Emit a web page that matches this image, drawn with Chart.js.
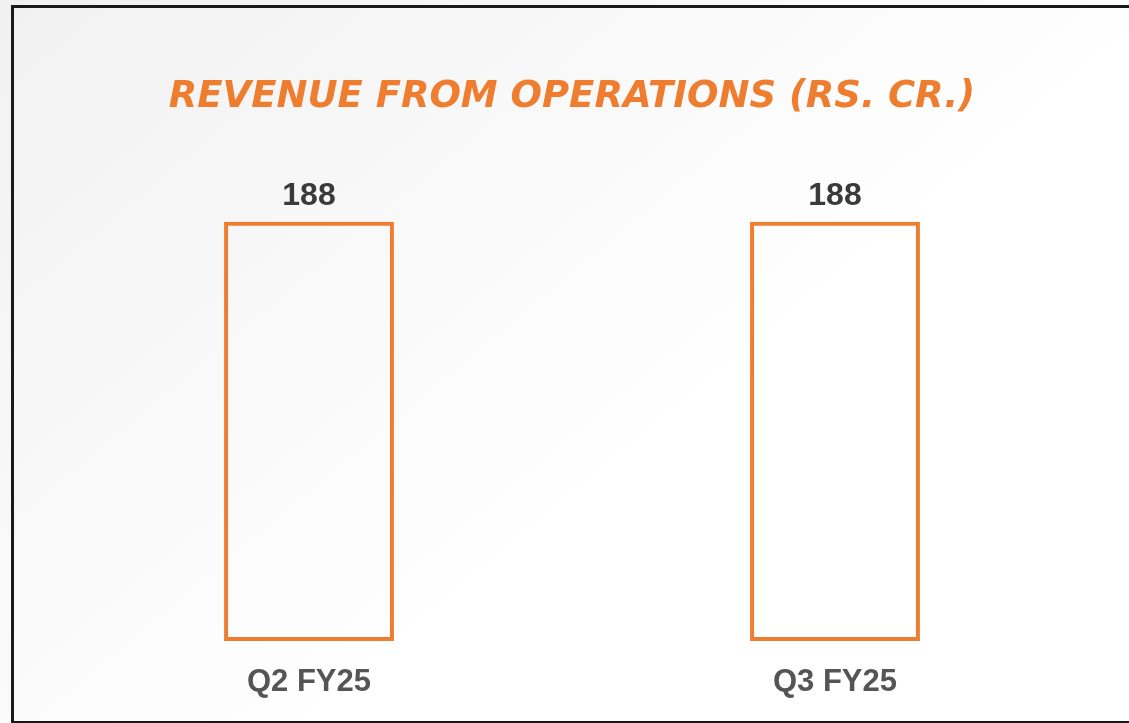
<!DOCTYPE html>
<html>
<head>
<meta charset="utf-8">
<script src="https://cdn.jsdelivr.net/npm/chart.js@4"></script>
<style>
  html, body { margin: 0; padding: 0; width: 1129px; height: 723px; overflow: hidden; background: #f2f2f2; }
  #wrap { position: absolute; left: 0; top: 0; width: 1129px; height: 723px; }
  canvas { position: absolute; left: 0; top: 0; }
  #frame { position: absolute; left: 11px; top: 5px; width: 1130px; height: 713px; border: 3px solid #1a1a1a; border-right: none; pointer-events: none; }
</style>
</head>
<body>
<div id="wrap">
  <canvas id="c" width="1129" height="723"></canvas>
  <div id="frame"></div>
</div>
<script>
const categories = ['Q2 FY25', 'Q3 FY25'];
const revenue = [188, 188];
const chartTitle = 'REVENUE FROM OPERATIONS (RS. CR.)';

const ORANGE = '#EE7D2F';

const bgPlugin = {
  id: 'bg',
  beforeDraw(chart) {
    const ctx = chart.ctx;
    ctx.save();
    const g = ctx.createLinearGradient(0, 0, 500, 600);
    g.addColorStop(0, '#f1f1f1');
    g.addColorStop(0.5, '#f8f8f8');
    g.addColorStop(1, '#ffffff');
    ctx.fillStyle = g;
    ctx.fillRect(0, 0, chart.width, chart.height);
    ctx.restore();
  }
};

const labelPlugin = {
  id: 'valueLabels',
  afterDatasetsDraw(chart) {
    const ctx = chart.ctx;
    const meta = chart.getDatasetMeta(0);
    ctx.save();
    ctx.font = 'bold 32px "Liberation Sans", Arial, sans-serif';
    ctx.fillStyle = '#3a3a3a';
    ctx.textAlign = 'center';
    ctx.textBaseline = 'middle';
    meta.data.forEach((bar, i) => {
      ctx.fillText(String(revenue[i]), bar.x, bar.y - 25);
    });
    ctx.restore();
  }
};

new Chart(document.getElementById('c'), {
  type: 'bar',
  data: {
    labels: categories,
    datasets: [{
      data: revenue,
      backgroundColor: 'rgba(255,255,255,0)',
      borderColor: ORANGE,
      borderWidth: 4,
      borderSkipped: false,
      categoryPercentage: 1,
      barPercentage: 0.323
    }]
  },
  options: {
    responsive: false,
    animation: false,
    layout: { padding: { left: 46, right: 31, top: 0, bottom: 0 } },
    plugins: {
      legend: { display: false },
      tooltip: { enabled: false },
      title: {
        display: true,
        text: chartTitle,
        color: ORANGE,
        font: { family: '"DejaVu Sans", Verdana, sans-serif', size: 37, weight: 'bold', style: 'italic', lineHeight: 1.2 },
        padding: { top: 75.5, bottom: 30.4 }
      }
    },
    scales: {
      x: {
        grid: { display: false, drawTicks: false },
        border: { display: false },
        ticks: {
          color: '#555555',
          font: { family: '"Liberation Sans", Arial, sans-serif', size: 31, weight: 'bold', lineHeight: 0.79 },
          padding: 28.8
        }
      },
      y: {
        display: false,
        min: 0,
        max: 220
      }
    }
  },
  plugins: [bgPlugin, labelPlugin]
});
</script>
</body>
</html>
